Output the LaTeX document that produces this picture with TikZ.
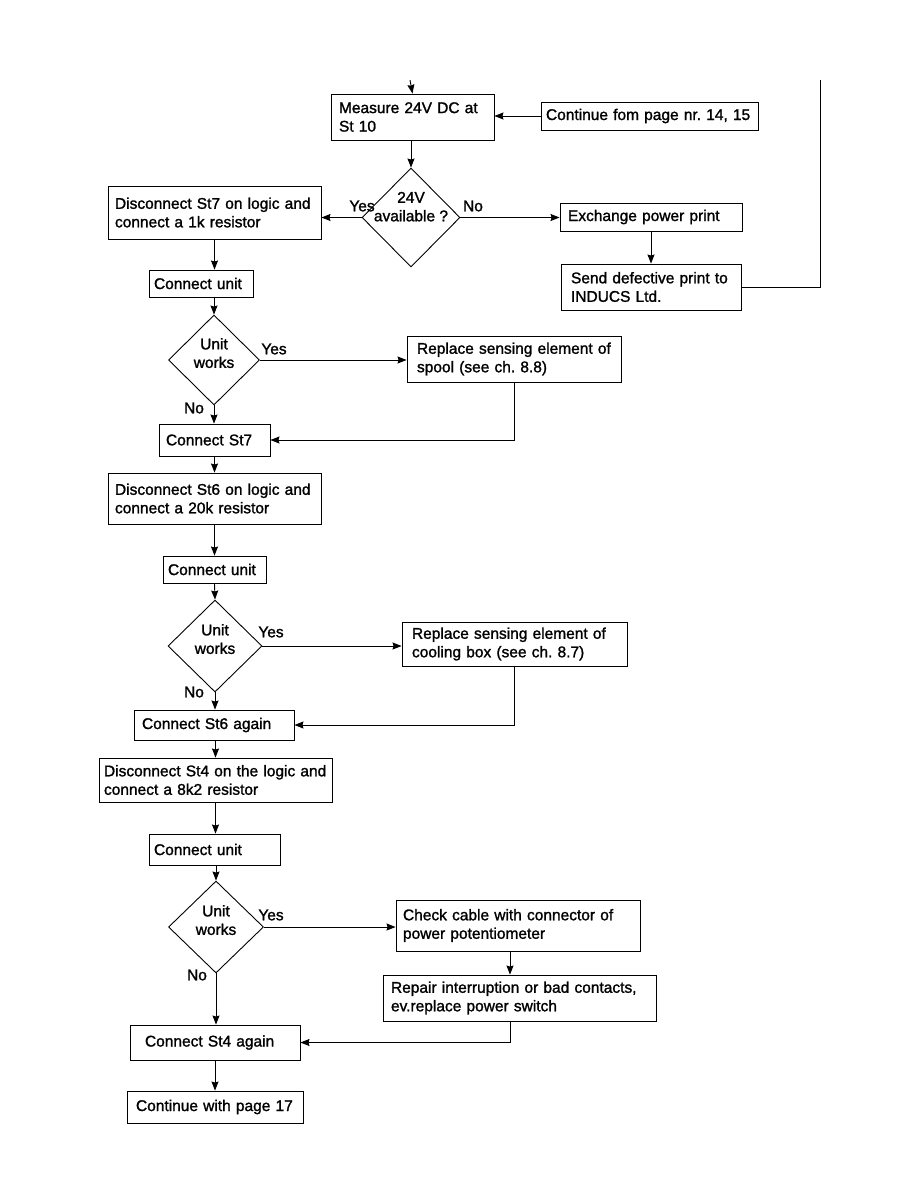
\documentclass[tikz,border=0pt]{standalone}
\usepackage{fontspec}
\setmainfont{Liberation Sans}[FakeBold=1.4]
\usepackage{tikz}
\usetikzlibrary{shapes.geometric,arrows.meta}
\frenchspacing

\begin{document}
\begin{tikzpicture}[x=1pt, y=-1pt,
		every node/.style={font=\fontsize{15.5}{18.5}\selectfont},
		box/.style={draw, line width=0.9pt, align=left, inner xsep=5pt, inner ysep=0pt},
		test/.style={draw, diamond, line width=0.9pt, align=center, inner sep=0pt, text depth=14pt},
		flow/.style={line width=0.9pt, -{Stealth[length=9pt, width=7pt, inset=1pt]}},
		line/.style={line width=0.9pt}]
		\useasboundingbox (0,0) rectangle (918,1188);
		% top part
		\coordinate (in) at (410,80);
		\coordinate (back) at (820,80);
		\node [box, text width=153pt, minimum height=46pt] (measure) at (412.5,117) {\hspace{3pt}Measure 24V DC at\\\hspace{3pt}St 10};
		\node [box, text width=207pt, minimum height=28pt] (from1415) at (649.5,116) {Continue fom page nr. 14, 15};
		\node [test, minimum width=98pt, minimum height=99pt, text height=11.5pt, text depth=4pt] (avail) at (411,217.5) {24V\\available ?};
		\node [box, text width=203pt, minimum height=53pt] (disc7) at (214.5,212.5) {\hspace{2pt}Disconnect St7 on logic and\\\hspace{2pt}connect a 1k resistor};
		\node [box, text width=172pt, minimum height=28pt] (exchange) at (651,217) {\hspace{3pt}Exchange power print};
		\node [box, text width=170pt, minimum height=46pt] (send) at (651,287) {\hspace{5pt}Send defective print to\\\hspace{5pt}INDUCS Ltd.};
		\node (yes0) at (362,206) {Yes};
		\node (no0) at (473,206) {No};
		\draw [flow] (in) -- (measure.north);
		\draw [flow] (from1415.west) -- (from1415.west -| measure.east);
		\draw [flow] (measure.south -| avail.north) -- (avail.north);
		\draw [flow] (avail.west) -- (avail.west -| disc7.east);
		\draw [flow] (avail.east) -- (avail.east -| exchange.west);
		\draw [flow] (exchange.south) -- (send.north);
		\draw [line] (send.east) -| (back);
		% St7
		\node [box, text width=94pt, minimum height=27pt] (unit1) at (201,283.5) {Connect unit};
		\node [test, minimum width=91pt, minimum height=90pt] (works1) at (214,360) {Unit\\works};
		\node [box, text width=204pt, minimum height=46pt] (spool) at (514,359) {\hspace{5pt}Replace sensing element of\\\hspace{5pt}spool (see ch. 8.8)};
		\node [box, text width=101pt, minimum height=32pt] (st7) at (214.5,440) {\hspace{2pt}Connect St7};
		\node (yes1) at (274,349) {Yes};
		\node (no1) at (194,408) {No};
		\draw [flow] (disc7.south) -- (disc7.south |- unit1.north);
		\draw [flow] (works1.north |- unit1.south) -- (works1.north);
		\draw [flow] (works1.east) -- (works1.east -| spool.west);
		\draw [flow] (works1.south) -- (works1.south |- st7.north);
		\draw [flow] (spool.south) |- (st7.east);
		% St6
		\node [box, text width=203pt, minimum height=51pt] (disc6) at (214.5,498.5) {\hspace{2pt}Disconnect St6 on logic and\\\hspace{2pt}connect a 20k resistor};
		\node [box, text width=93pt, minimum height=27pt] (unit2) at (214.5,569.5) {Connect unit};
		\node [test, minimum width=94pt, minimum height=92pt] (works2) at (215,646) {Unit\\works};
		\node [box, text width=215pt, minimum height=44pt] (cooling) at (514.5,644) {\hspace{5pt}Replace sensing element of\\\hspace{5pt}cooling box (see ch. 8.7)};
		\node [box, text width=150pt, minimum height=30pt] (st6) at (214,725) {\hspace{3pt}Connect St6 again};
		\node (yes2) at (271,632) {Yes};
		\node (no2) at (194,692) {No};
		\draw [flow] (st7.south) -- (st7.south |- disc6.north);
		\draw [flow] (disc6.south) -- (disc6.south |- unit2.north);
		\draw [flow] (unit2.south) -- (works2.north);
		\draw [flow] (works2.east) -- (works2.east -| cooling.west);
		\draw [flow] (works2.south) -- (works2.south |- st6.north);
		\draw [flow] (cooling.south) |- (st6.east);
		% St4
		\node [box, text width=223pt, minimum height=44pt] (disc4) at (215.5,780) {Disconnect St4 on the logic and\\connect a 8k2 resistor};
		\node [box, text width=121pt, minimum height=31pt] (unit3) at (214.5,849.5) {Connect unit};
		\node [test, minimum width=95pt, minimum height=92pt] (works3) at (216,927) {Unit\\works};
		\node [box, text width=234pt, minimum height=51pt] (cable) at (518,925.5) {\hspace{2pt}Check cable with connector of\\\hspace{2pt}power potentiometer};
		\node [box, text width=263pt, minimum height=46pt] (repair) at (519.5,998) {\hspace{3pt}Repair interruption or bad contacts,\\\hspace{3pt}ev.replace power switch};
		\node [box, text width=160pt, minimum height=35pt] (st4) at (215,1042.5) {\hspace{10pt}Connect St4 again};
		\node [box, text width=166pt, minimum height=32pt] (page17) at (215,1107) {\hspace{4pt}Continue with page 17};
		\node (yes3) at (271,915) {Yes};
		\node (no3) at (197,975) {No};
		\draw [flow] (st6.south -| disc4.north) -- (disc4.north);
		\draw [flow] (disc4.south) -- (disc4.south |- unit3.north);
		\draw [flow] (works3.north |- unit3.south) -- (works3.north);
		\draw [flow] (works3.east) -- (works3.east -| cable.west);
		\draw [flow] (cable.south -| 510,0) -- (repair.north -| 510,0);
		\draw [flow] (works3.south) -- (works3.south |- st4.north);
		\draw [flow] (repair.south -| 510,0) |- (st4.east);
		\draw [flow] (st4.south) -- (page17.north);
	\end{tikzpicture}
\end{document}
